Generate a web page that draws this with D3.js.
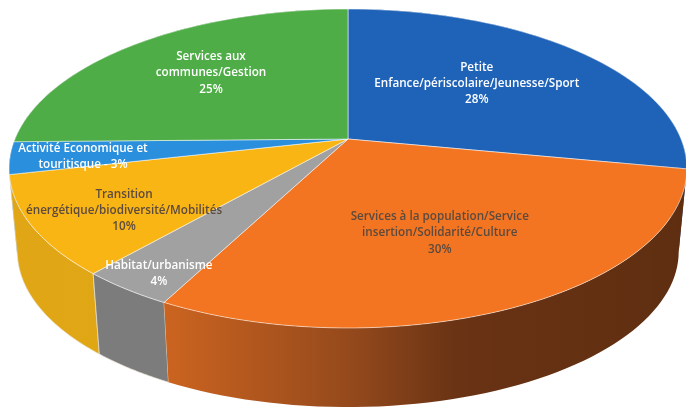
<!DOCTYPE html>
<html><head><meta charset="utf-8">
<script src="https://cdn.jsdelivr.net/npm/d3@7"></script>
<style>html,body{margin:0;padding:0;background:#fff}svg{display:block;filter:blur(.55px)}text{font-family:"Open Sans","Noto Sans",sans-serif;font-weight:600;font-size:11.7px}</style>
</head><body><svg id="c" width="686" height="411"></svg>
<script>
const categories = ["Petite Enfance/périscolaire/Jeunesse/Sport","Services à la population/Service insertion/Solidarité/Culture","Habitat/urbanisme","Transition énergétique/biodiversité/Mobilités","Activité Economique et touritisque","Services aux communes/Gestion"];
const values = [28,30,4,10,3,25];
const labelLines = [
 ["Petite","Enfance/périscolaire/Jeunesse/Sport","28%"],
 ["Services à la population/Service","insertion/Solidarité/Culture","30%"],
 ["Habitat/urbanisme","4%"],
 ["Transition","énergétique/biodiversité/Mobilités","10%"],
 ["Activité Economique et","touritisque - 3%"],
 ["Services aux","communes/Gestion","25%"]];
const topColors = ["#1f63b8","#f47521","#a1a1a1","#f9b514","#2a8fdc","#4ead46"];
const wallColors = [["#174a8a","#174a8a","#174a8a","#174a8a"],["#cc6420","#94491c","#693314","#5f2e10"],["#7c7c7c","#7c7c7c","#7c7c7c","#7c7c7c"],["#e0a616","#e0a616","#e0a616","#e0a715"],["#1f6ca6","#1f6ca6","#1f6ca6","#1f6ca6"],["#3b8335","#3b8335","#3b8335","#3b8335"]];
const textColors = ["#fff","#5c4a3e","#fff","#5c4a3e","#fff","#fff"];
const labelNudge = [[-15,-1],[-5,1],[-65,50],[-42,21],[-64,6],[-6,-6]];

// projection: unit disc -> perspective view of the top face
const cx=348, R=333, A=128.3, B=139, C=-0.185;
const deg=Math.PI/180;
const warp=d3.scaleLinear().domain([100.8,208.8,223.2,259.2,270,315].map(a=>a*deg)).range([0,-1.3,-2,-2,-1,0].map(a=>a*deg)).clamp(true);
const project=(ang,r)=>{const a=ang+warp(ang),u=r*Math.sin(a),v=-r*Math.cos(a),d=1+C*v;return [cx+R*u/d,(A*v+B)/d];};
const S=0.976, DY=87;
const lower=p=>[cx+S*(p[0]-cx),S*p[1]+DY];

const svg=d3.select("#c");
const slices=d3.pie().sort(null)(values);
const line=d3.line();
const rim=d=>d3.range(0,61).map(i=>project(d.startAngle+(d.endAngle-d.startAngle)*i/60,1));

const defs=svg.append("defs");
slices.forEach((d,i)=>{
  const g=defs.append("linearGradient").attr("id","w"+i).attr("gradientUnits","userSpaceOnUse");
  const pts=rim(d),xs=d3.extent(pts,p=>p[0]);
  g.attr("x1",xs[0]).attr("x2",xs[1]).attr("y1",0).attr("y2",0);
  [0,.36,.56,1].forEach((o,k)=>g.append("stop").attr("offset",o).attr("stop-color",wallColors[i][k]));
});
// walls, back to front
const order=[5,0,4,3,2,1];
svg.append("g").selectAll("path").data(order).join("path")
  .attr("d",i=>{const t=rim(slices[i]);return line(t.concat(t.map(lower).reverse()))+"Z";})
  .attr("fill",i=>`url(#w${i})`)
  .attr("stroke",i=>(i===2||i===3)?"#e9e2d2":"none").attr("stroke-width",.7);
// top faces
svg.append("g").selectAll("path").data(slices).join("path")
  .attr("d",d=>line([project(0,0)].concat(rim(d)))+"Z")
  .attr("fill",(d,i)=>topColors[i])
  .attr("stroke","#fff").attr("stroke-opacity",.65).attr("stroke-width",.8).attr("stroke-linejoin","round");
// labels
const lh=16.2;
slices.forEach((d,i)=>{
  const p=project((d.startAngle+d.endAngle)/2,.6);
  const x=p[0]+labelNudge[i][0],y=p[1]+labelNudge[i][1];
  const L=labelLines[i];
  const t=svg.append("text").attr("text-anchor","middle").attr("fill",textColors[i]);
  L.forEach((s,k)=>t.append("tspan").attr("x",x).attr("y",y+(k-(L.length-1)/2)*lh+4).text(s));
});
</script></body></html>
